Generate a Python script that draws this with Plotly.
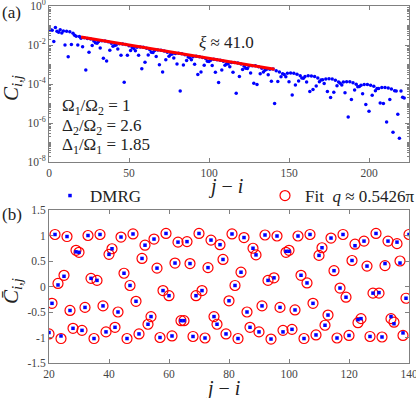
import numpy as np
import plotly.graph_objects as go

# panel (a): |C_ij| vs separation, stored as log10 values (r = 1 .. 222)
log_c = [
    -1.22, -1.24, -1.82, -1.10, -1.30, -1.35, -1.22, -1.38, -1.28, -2.00,
    -1.30, -2.60, -1.32, -1.98, -1.40, -1.50, -1.55, -2.00, -1.56,
    -1.65, -2.09, -1.63, -3.28, -1.67, -2.37, -1.69, -2.03, -1.80, -1.89,
    -1.91, -1.82, -2.15, -1.78, -2.68, -1.80, -2.82, -1.83, -2.27, -1.91,
    -2.07, -2.02, -2.00, -2.21, -1.94, -2.53, -1.95, -3.91, -1.97, -2.53,
    -2.04, -2.28, -2.13, -2.18, -2.29, -2.11, -2.53, -2.10, -3.22, -2.12,
    -2.89, -2.17, -2.51, -2.25, -2.37, -2.39, -2.28, -2.59, -2.26, -3.01,
    -2.27, -3.39, -2.31, -2.75, -2.37, -2.58, -2.49, -2.46, -2.67, -2.43,
    -2.97, -2.42, -4.36, -2.45, -3.02, -2.50, -2.80, -2.61, -2.65, -2.75,
    -2.60, -2.99, -2.58, -3.51, -2.60, -3.39, -2.64, -3.04, -2.71, -2.83,
    -2.85, -2.78, -3.05, -2.73, -3.40, -2.75, -3.92, -2.78, -3.28, -2.83,
    -3.04, -2.96, -2.97, -3.12, -2.90, -3.40, -2.90, -4.48, -2.92, -3.62,
    -2.98, -3.26, -3.09, -3.19, -3.21, -3.08, -3.44, -3.06, -3.96, -3.07,
    -4.02, -3.11, -3.47, -3.19, -3.38, -3.30, -3.24, -3.53, -3.25, -3.86,
    -3.23,
    -5.00, -3.32, -3.87, -3.38, -3.63, -3.47, -3.51, -3.63, -3.45, -3.88,
    -3.44, -4.57, -3.45, -4.05, -3.50, -3.84, -3.58, -3.69, -3.71, -3.61,
    -3.90, -3.58, -4.38, -3.59, -4.28, -3.62, -4.10, -3.69, -3.88, -3.80,
    -3.78, -3.98, -3.74, -4.38, -3.73, -4.69, -3.75, -4.42, -3.81, -4.09,
    -3.90, -3.96, -4.05, -3.90, -4.45, -3.88, -5.69, -3.89, -4.80, -3.93,
    -4.31, -4.01, -4.14, -4.13, -4.06, -4.50, -4.03, -5.05, -4.03, -5.40,
    -4.06, -4.58, -4.12, -4.34, -4.23, -4.23, -4.98, -4.18, -5.00, -4.18,
    -5.95, -4.20, -4.80, -4.26, -6.47, -4.34, -4.36, -5.55, -6.78, -4.36,
    -4.68, -4.72,
]
sep_a = np.arange(1, len(log_c) + 1)

# exponential fit line (end points, log10)
fit_line_r = [20, 141]
fit_line_log = [-1.586, -3.24]

# panel (b): normalised correlation, r = 20 .. 140
dmrg_b = [
    -0.90, -0.33, 1.02, 0.03, -0.97, 0.20, 0.98, -0.47, -0.82, 0.68,
    0.67, -0.86, -0.41, 1.00, 0.16, -1.02, 0.12, 1.02, -0.38, -0.89,
    0.63, 0.74, -0.80, -0.50, 0.97, 0.26, -1.02, 0.02, 1.03, -0.29,
    -0.93, 0.55, 0.81, -0.74, -0.59, 0.93, 0.36, -1.00, -0.08, 1.04,
    -0.18, -0.97, 0.46, 0.87, -0.67, -0.67, 0.88, 0.45, -0.98, -0.18,
    1.04, -0.08, -1.01, 0.37, 0.91, -0.59, -0.74, 0.82, 0.53, -0.93,
    -0.28, 1.03, 0.02, -1.02, 0.28, 0.96, -0.50, -0.80, 0.75, 0.62,
    -0.89, -0.38, 1.01, 0.12, -1.03, 0.17, 0.99, -0.41, -0.89, 0.69,
    0.69, -0.84, -0.46, 0.99, 0.22, -1.02, 0.07, 1.02, -0.33, -0.95,
    0.61, 0.76, -0.76, -0.56, 0.95, 0.31, -1.01, -0.03, 1.02, -0.21,
    -0.96, 0.51, 0.80, -0.65, -0.63, 0.89, 0.40, -0.98, -0.13, 1.04,
    -0.12, -0.99, 0.45, 0.89, -0.59, -0.73, 0.87, 0.46, -0.91, -0.23,
    1.02,
]
fit_b = [
    -0.93, -0.33, 1.02, 0.06, -1.02, 0.22, 0.98, -0.47, -0.82, 0.71,
    0.67, -0.86, -0.41, 1.00, 0.16, -1.02, 0.12, 1.02, -0.38, -0.89,
    0.63, 0.74, -0.80, -0.50, 0.97, 0.26, -1.02, 0.02, 1.03, -0.29,
    -0.93, 0.55, 0.81, -0.74, -0.59, 0.93, 0.36, -1.00, -0.08, 1.04,
    -0.18, -0.97, 0.46, 0.87, -0.67, -0.67, 0.88, 0.45, -0.98, -0.18,
    1.04, -0.08, -1.01, 0.37, 0.91, -0.59, -0.74, 0.82, 0.53, -0.93,
    -0.28, 1.03, 0.02, -1.02, 0.28, 0.96, -0.50, -0.80, 0.75, 0.62,
    -0.89, -0.38, 1.01, 0.12, -1.03, 0.17, 0.99, -0.41, -0.86, 0.67,
    0.71, -0.84, -0.46, 0.99, 0.22, -1.02, 0.07, 1.02, -0.33, -0.95,
    0.61, 0.76, -0.76, -0.56, 0.95, 0.31, -1.01, -0.03, 1.02, -0.21,
    -0.96, 0.51, 0.83, -0.71, -0.63, 0.89, 0.40, -0.98, -0.13, 1.04,
    -0.13, -0.99, 0.41, 0.89, -0.63, -0.70, 0.84, 0.50, -0.96, -0.23,
    1.02,
]
sep_b = np.arange(20, 20 + len(dmrg_b))

FONT = "Liberation Serif"
AXIS_COLOR = "#808080"

fig = go.Figure()

# panel (a)
fig.add_trace(go.Scatter(
    x=sep_a, y=np.power(10.0, log_c), mode="markers",
    marker=dict(color="#0000ff", size=3.5),
    showlegend=False, xaxis="x", yaxis="y"))
fig.add_trace(go.Scatter(
    x=fit_line_r, y=np.power(10.0, fit_line_log), mode="lines",
    line=dict(color="#ff0000", width=3),
    showlegend=False, xaxis="x", yaxis="y"))

# panel (b)
fig.add_trace(go.Scatter(
    x=sep_b, y=fit_b, mode="markers",
    name="Fit  <i>q</i> ≈ 0.5426π", legend="legend2",
    marker=dict(color="#ff0000", size=10, symbol="circle-open",
                line=dict(width=1.2)),
    xaxis="x2", yaxis="y2"))
fig.add_trace(go.Scatter(
    x=sep_b, y=dmrg_b, mode="markers", name="DMRG", legend="legend",
    marker=dict(color="#0000ff", size=3.5, symbol="square"),
    xaxis="x2", yaxis="y2"))

axis_common = dict(
    showline=True, linecolor=AXIS_COLOR, linewidth=1, mirror="allticks",
    ticks="inside", ticklen=4, tickcolor=AXIS_COLOR, showgrid=False,
    zeroline=False, automargin=False, ticklabeloverflow="allow",
    tickfont=dict(family=FONT, size=11.5, color="#444"),
)

dec_vals = [10.0 ** k for k in range(-8, 1, 2)]
dec_text = ["10<sup>%d</sup>" % k for k in range(-8, 1, 2)]
minor_vals = [m * 10.0 ** k for k in range(-8, 0) for m in range(1, 10)]

b_ticks = [-1.5, -1, -0.5, 0, 0.5, 1, 1.5]
b_text = ["-1.5", "-1", "-0.5", "0", "0.5", "1", "1.5"]

W, H = 416, 398
x_dom = [49 / W, 409 / W]

legend_common = dict(
    orientation="h", yanchor="middle", xanchor="left", y=1 - 196 / H,
    font=dict(family=FONT, size=17, color="#222"),
    bgcolor="rgba(0,0,0,0)", itemwidth=30,
)

fig.update_layout(
    width=W, height=H,
    margin=dict(l=0, r=0, t=0, b=0, autoexpand=False),
    paper_bgcolor="white", plot_bgcolor="white",
    font=dict(family=FONT, color="#222"),
    xaxis=dict(domain=x_dom, anchor="y", range=[0, 225],
               tickvals=[0, 50, 100, 150, 200], **axis_common),
    yaxis=dict(domain=[1 - 162 / H, 1 - 6 / H], anchor="x", type="log",
               range=[-8, 0], tickvals=dec_vals, ticktext=dec_text,
               minor=dict(tickvals=minor_vals, ticks="inside", ticklen=2,
                          tickcolor=AXIS_COLOR),
               **axis_common),
    xaxis2=dict(domain=x_dom, anchor="y2", range=[20, 140],
                tickvals=[20, 40, 60, 80, 100, 120, 140], **axis_common),
    yaxis2=dict(domain=[1 - 363 / H, 1 - 210 / H], anchor="x2",
                range=[-1.5, 1.5], tickvals=b_ticks, ticktext=b_text,
                **axis_common),
    legend=dict(x=50 / W, **legend_common),
    legend2=dict(x=265 / W, **legend_common),
)

ann_font = dict(family=FONT, size=17, color="#222")
annotations = [
    dict(text="(a)", x=0, y=1 - 12 / H, xanchor="left"),
    dict(text="(b)", x=0, y=1 - 215 / H, xanchor="left"),
    dict(text="<i>ξ</i> ≈ 41.0", x=227 / W, y=1 - 43 / H),
    dict(text="Ω<sub>1</sub>/Ω<sub>2</sub> = 1", x=60 / W, y=1 - 107 / H,
         xanchor="left"),
    dict(text="Δ<sub>2</sub>/Ω<sub>2</sub> = 2.6", x=60 / W, y=1 - 127 / H,
         xanchor="left"),
    dict(text="Δ<sub>1</sub>/Ω<sub>1</sub> = 1.85", x=60 / W, y=1 - 146 / H,
         xanchor="left"),
    dict(text="<i>j</i> − <i>i</i>", x=226 / W, y=1 - 186 / H,
         font=dict(family=FONT, size=20, color="#222")),
    dict(text="<i>j</i> − <i>i</i>", x=222 / W, y=1 - 388 / H,
         font=dict(family=FONT, size=20, color="#222")),
    dict(text="<i>C</i><sub><i>i,j</i></sub>", x=12 / W, y=1 - 88 / H,
         textangle=-90, font=dict(family=FONT, size=21, color="#222")),
    dict(text="<i>C̄</i><sub><i>i,j</i></sub>", x=12 / W, y=1 - 291 / H,
         textangle=-90, font=dict(family=FONT, size=21, color="#222")),
]
for a in annotations:
    a.setdefault("font", ann_font)
    a.setdefault("xanchor", "center")
    a.update(xref="paper", yref="paper", showarrow=False, yanchor="middle")
fig.update_layout(annotations=annotations)

fig.write_html("out.html", config={"displayModeBar": False},
               post_script="document.body.style.margin='0';")
